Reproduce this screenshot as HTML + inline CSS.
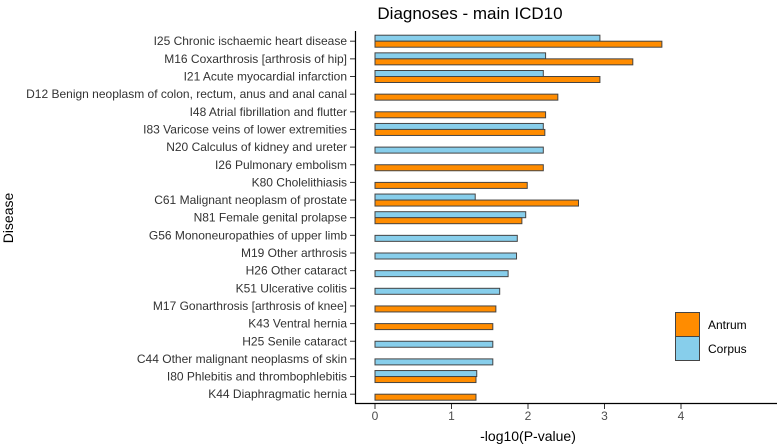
<!DOCTYPE html>
<html><head><meta charset="utf-8"><style>
body{margin:0;background:#fff;}
svg{display:block;font-family:"Liberation Sans",sans-serif;}
</style></head><body>
<svg id="chart" width="777" height="448">
<text x="470" y="19" font-size="17" text-anchor="middle" fill="#000">Diagnoses - main ICD10</text>
<text transform="translate(13,218) rotate(-90)" font-size="14" text-anchor="middle" fill="#000">Disease</text>
<text x="528" y="441" font-size="14" text-anchor="middle" fill="#000">-log10(P-value)</text>
<g id="bars"></g><g id="yaxis"></g><g id="xaxis"></g>
<line x1="355.5" y1="31" x2="355.5" y2="404" stroke="#000" stroke-width="1.2"/>
<line x1="355" y1="403.5" x2="777" y2="403.5" stroke="#000" stroke-width="1.2"/>
<g>
<rect x="675.5" y="312.5" width="24" height="24" fill="#FF8C00" stroke="#444"/>
<rect x="675.5" y="336.5" width="24" height="24" fill="#87CEEB" stroke="#444"/>
<text x="708" y="329" font-size="12" fill="#000">Antrum</text>
<text x="708" y="353" font-size="12" fill="#000">Corpus</text>
</g>
</svg>
<script>
const categories=["I25 Chronic ischaemic heart disease","M16 Coxarthrosis [arthrosis of hip]","I21 Acute myocardial infarction","D12 Benign neoplasm of colon, rectum, anus and anal canal","I48 Atrial fibrillation and flutter","I83 Varicose veins of lower extremities","N20 Calculus of kidney and ureter","I26 Pulmonary embolism","K80 Cholelithiasis","C61 Malignant neoplasm of prostate","N81 Female genital prolapse","G56 Mononeuropathies of upper limb","M19 Other arthrosis","H26 Other cataract","K51 Ulcerative colitis","M17 Gonarthrosis [arthrosis of knee]","K43 Ventral hernia","H25 Senile cataract","C44 Other malignant neoplasms of skin","I80 Phlebitis and thrombophlebitis","K44 Diaphragmatic hernia"];
const corpus=[2.94,2.23,2.20,null,null,2.20,2.20,null,null,1.31,1.97,1.86,1.85,1.74,1.63,null,null,1.54,1.54,1.33,null];
const antrum=[3.75,3.37,2.94,2.39,2.23,2.22,null,2.20,1.99,2.66,1.92,null,null,null,null,1.58,1.54,null,null,1.32,1.32];
const xTicks=[0,1,2,3,4];
const NS="http://www.w3.org/2000/svg";
const x=v=>375+v*76.5;
const y=i=>41.2+i*17.65;
const bars=document.getElementById('bars'),ya=document.getElementById('yaxis'),xa=document.getElementById('xaxis');
function mk(t,a,p){const e=document.createElementNS(NS,t);for(const k in a)e.setAttribute(k,a[k]);p.appendChild(e);return e;}
categories.forEach((c,i)=>{
  const cy=y(i),both=corpus[i]!=null&&antrum[i]!=null;
  if(corpus[i]!=null){
    const r=mk('rect',{x:x(0),y:both?cy-6:cy,width:x(corpus[i])-x(0),height:6,fill:'#87CEEB',stroke:'#444','stroke-width':1},bars);
    
    
  }
  if(antrum[i]!=null){
    const r=mk('rect',{x:x(0),y:cy,width:x(antrum[i])-x(0),height:6,fill:'#FF8C00',stroke:'#444','stroke-width':1},bars);
    
    
  }
  const t=mk('text',{x:347,y:cy+4,'font-size':12,'text-anchor':'end',fill:'#333'},ya);
  t.textContent=c;
  
  
  const l=mk('line',{x1:350,x2:355,y1:cy,y2:cy,stroke:'#333'},ya);
  
  
});
xTicks.forEach(v=>{
  const l=mk('line',{x1:x(v),x2:x(v),y1:404,y2:409,stroke:'#333'},xa);
  
  
  const t=mk('text',{x:x(v),y:420,'font-size':12,'text-anchor':'middle',fill:'#4d4d4d'},xa);
  t.textContent=v;
  
  
});
</script>
</body></html>
